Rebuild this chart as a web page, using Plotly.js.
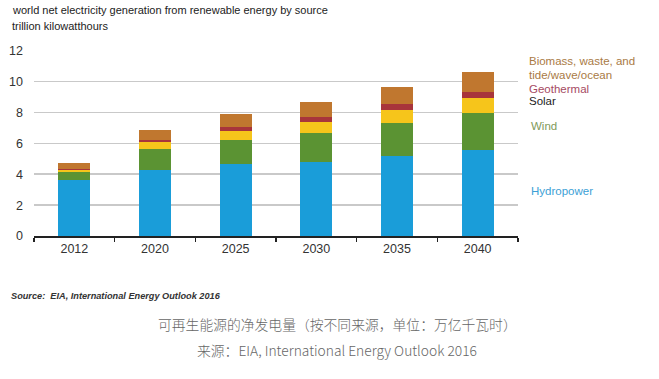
<!DOCTYPE html>
<html>
<head>
<meta charset="utf-8">
<script src="https://cdn.plot.ly/plotly-3.0.1.min.js"></script>
<style>
html,body{margin:0;padding:0;background:#fff;}
#chart{width:659px;height:379px;}
</style>
</head>
<body>
<div id="chart"></div>
<script>
const years = ["2012", "2020", "2025", "2030", "2035", "2040"];
const hydropower = [3.65, 4.30, 4.67, 4.82, 5.16, 5.57];
const wind = [0.52, 1.31, 1.57, 1.83, 2.18, 2.43];
const solar = [0.08, 0.46, 0.58, 0.75, 0.81, 0.97];
const geothermal = [0.08, 0.17, 0.24, 0.28, 0.39, 0.38];
const biomass = [0.42, 0.64, 0.84, 1.01, 1.10, 1.28];
const yTicks = [0, 2, 4, 6, 8, 10, 12];

const colors = {
  hydro: "#1a9dd9",
  wind: "#5b9333",
  solar: "#f6c51b",
  geo: "#a8353b",
  bio: "#c0772f"
};

function bar(name, y, color) {
  return {type: "bar", name: name, x: years, y: y, width: 0.4,
    marker: {color: color, line: {width: 0}}, hoverinfo: "y+name"};
}

const data = [
  bar("Hydropower", hydropower, colors.hydro),
  bar("Wind", wind, colors.wind),
  bar("Solar", solar, colors.solar),
  bar("Geothermal", geothermal, colors.geo),
  bar("Biomass, waste, and tide/wave/ocean", biomass, colors.bio)
];

const F = "Liberation Sans, Arial, sans-serif";
const paperText = (text, x, y, size, color, extra) => Object.assign({
  text: text, xref: "paper", yref: "paper", x: x, y: y,
  xanchor: "left", yanchor: "middle", showarrow: false,
  font: {family: F, size: size, color: color}
}, extra || {});

const L = 34, R = 518, T = 50, B = 236;
const px = (x) => (x - L) / (R - L);
const py = (y) => (B - y) / (B - T);

const annotations = [
  paperText("world net electricity generation from renewable energy by source", px(10), py(10), 11, "#222"),
  paperText("trillion kilowatthours", px(10), py(26), 11, "#222"),
  paperText("Biomass, waste, and", px(527), py(61), 11.5, "#a97a45"),
  paperText("tide/wave/ocean", px(527), py(75), 11.5, "#a97a45"),
  paperText("Geothermal", px(527), py(89), 11.5, "#a64a63"),
  paperText("Solar", px(527), py(101), 11.5, "#222"),
  paperText("Wind", px(529), py(126), 11.5, "#7f9a5a"),
  paperText("Hydropower", px(529), py(191), 11.5, "#3c9fd6"),
  paperText("<i>Source:  EIA, International Energy Outlook 2016</i>", px(9), py(296), 9.2, "#333", {font: {family: F, size: 9.2, color: "#333", weight: "bold"}}),
  paperText("可再生能源的净发电量（按不同来源，单位：万亿千瓦时）", px(337), py(324), 13.8, "#666", {xanchor: "center", font: {family: "Noto Sans CJK SC, sans-serif", size: 13.8, color: "#666", weight: 300}}),
  paperText("来源：EIA, International Energy Outlook 2016", px(337), py(350), 13.8, "#666", {xanchor: "center", font: {family: "Noto Sans CJK SC, sans-serif", size: 13.8, color: "#666", weight: 300}})
];

const layout = {
  width: 659, height: 379,
  margin: {l: L, r: 659 - R, t: T, b: 379 - B, pad: 0},
  paper_bgcolor: "#ffffff",
  plot_bgcolor: "#ffffff",
  barmode: "stack",
  showlegend: false,
  xaxis: {
    type: "category",
    tickson: "boundaries",
    ticks: "outside", ticklen: 4, tickcolor: "#222", tickwidth: 1.2,
    showline: true, linecolor: "#222", linewidth: 1.5,
    showgrid: false,
    tickfont: {family: F, size: 12.5, color: "#333"},
    range: [-0.5, 5.5],
    fixedrange: true
  },
  yaxis: {
    range: [0, 12.05],
    tickvals: yTicks,
    ticktext: yTicks.map(String),
    showgrid: true, gridcolor: "#c9c9c9", gridwidth: 1.6,
    zeroline: false,
    ticks: "", ticklabelstandoff: 10,
    tickfont: {family: F, size: 12.5, color: "#333"},
    fixedrange: true
  },
  annotations: annotations
};

Plotly.newPlot("chart", data, layout, {displayModeBar: false, staticPlot: true});
</script>
</body>
</html>
